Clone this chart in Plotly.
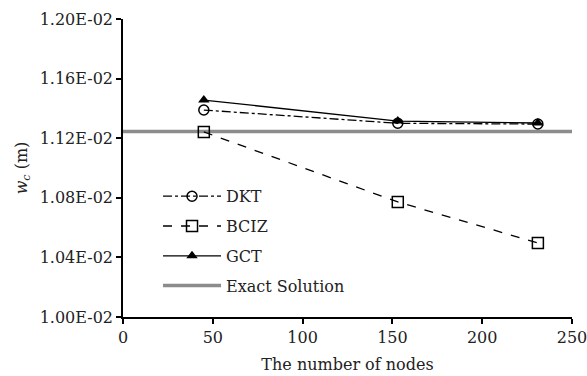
import plotly.graph_objects as go

nodes = [45, 153, 231]
dkt = [0.011389, 0.011300, 0.011295]
bciz = [0.011242, 0.010772, 0.010497]
gct = [0.011456, 0.011315, 0.011302]
exact_x = [0, 250]
exact_y = [0.011245, 0.011245]

y_tickvals = [0.0100, 0.0104, 0.0108, 0.0112, 0.0116, 0.0120]
y_ticktext = ["1.00E-02", "1.04E-02", "1.08E-02", "1.12E-02", "1.16E-02", "1.20E-02"]
x_tickvals = [0, 50, 100, 150, 200, 250]

FONT = "DejaVu Serif"
FS = 16

fig = go.Figure()
fig.add_trace(go.Scatter(x=exact_x, y=exact_y, mode="lines", name="Exact Solution",
                         line=dict(color="#8c8c8c", width=3.5), legendrank=4, legendgroup="e"))
fig.add_trace(go.Scatter(x=nodes, y=bciz, mode="lines+markers", name="BCIZ",
                         line=dict(color="black", width=1.3, dash="dash"),
                         marker=dict(symbol="square-open", size=11, color="black", line=dict(width=1.5)),
                         legendrank=2, legendgroup="b"))
fig.add_trace(go.Scatter(x=nodes, y=dkt, mode="lines+markers", name="DKT",
                         line=dict(color="black", width=1.3, dash="dashdot"),
                         marker=dict(symbol="circle-open", size=10, color="black", line=dict(width=1.5)),
                         legendrank=1, legendgroup="d"))
fig.add_trace(go.Scatter(x=nodes, y=gct, mode="lines+markers", name="GCT",
                         line=dict(color="black", width=1.3),
                         marker=dict(symbol="triangle-up", size=10, color="black"),
                         legendrank=3, legendgroup="g"))

fig.update_layout(
    width=587, height=376,
    margin=dict(l=123, r=15, t=19, b=59, autoexpand=False),
    paper_bgcolor="white", plot_bgcolor="white",
    font=dict(family=FONT, size=FS, color="#222222"),
    showlegend=True,
    legend=dict(x=0.078, y=0.462, xanchor="left", yanchor="top",
                itemwidth=58, tracegroupgap=6,
                bgcolor="rgba(0,0,0,0)", font=dict(size=FS, family=FONT)),
)
fig.update_xaxes(range=[0, 250], tickvals=x_tickvals, showgrid=False, zeroline=False,
                 showline=True, linecolor="black", linewidth=1.5, automargin=True,
                 ticklabeloverflow="allow",
                 ticks="outside", ticklen=5, tickcolor="black", tickwidth=1.5,
                 title=dict(text="The number of nodes", font=dict(size=FS), standoff=13))
fig.update_yaxes(range=[0.0100, 0.0120], tickvals=y_tickvals, ticktext=y_ticktext,
                 showgrid=False, zeroline=False, automargin=False,
                 ticklabeloverflow="allow",
                 showline=True, linecolor="black", linewidth=1.5,
                 ticks="outside", ticklen=5, tickcolor="black", tickwidth=1.5,
                 title=dict(text="<i>w</i><sub><i>c</i></sub> (m)", font=dict(size=FS), standoff=8))

fig.write_html("out.html")
